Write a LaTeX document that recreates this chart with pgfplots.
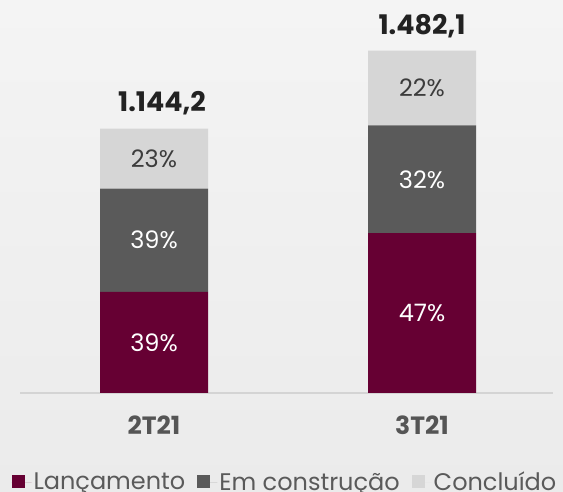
\documentclass[border=0pt]{standalone}
\usepackage{pgfplots}
\pgfplotsset{compat=1.18}
\usepackage{fontspec}
\setmainfont{Poppins}
\definecolor{lanc}{HTML}{660033}
\definecolor{emc}{HTML}{5A5A5A}
\definecolor{conc}{HTML}{D6D6D6}
\definecolor{cattxt}{HTML}{555555}
\definecolor{legtxt}{HTML}{5A5A5A}
\definecolor{tottxt}{HTML}{222222}
\definecolor{pcdark}{HTML}{3C3C3C}
\definecolor{bgtop}{HTML}{F4F4F4}
\definecolor{bgbot}{HTML}{EBEBEB}
\definecolor{baseln}{HTML}{D4D4D4}
\tikzset{tot/.style={font=\fontsize{27bp}{31bp}\selectfont\bfseries, text=tottxt}}
\pgfplotsset{frame/.style={at={(20bp,99bp)}, anchor=south west,
  scale only axis, width=533bp, height=363bp,
  xmin=-0.5, xmax=1.4888, ymin=0, ymax=1571}}
\begin{document}
\begin{tikzpicture}[x=1bp,y=1bp]
\path[use as bounding box] (0,0) rectangle (563,492);
\shade[top color=bgtop, bottom color=bgbot] (0,0) rectangle (563,492);
\begin{axis}[
  frame, clip=false,
  ybar stacked, bar width=0.403,
  axis x line=bottom, axis y line=none,
  x axis line style={draw=baseln, line width=2bp, -},
  xtick={0,1}, xticklabels={2T21,3T21}, major tick length=0,
  xticklabel style={font=\fontsize{25bp}{29bp}\selectfont\bfseries, text=cattxt, yshift=-19bp},
  legend style={at={(0.497,-0.246)}, anchor=center, draw=none, fill=none,
    font=\fontsize{24bp}{28bp}\selectfont, text=legtxt,
    /tikz/every even column/.append style={column sep=10bp}},
  legend columns=3, legend cell align=left,
  legend image code/.code={\path (0bp,0bp) -- (20bp,0bp);\draw[#1,draw=none] (0bp,-6bp) rectangle (13bp,7bp);},
]
\addplot[fill=lanc, draw=none] coordinates {(0,437.9) (1,691.5)};
\addplot[fill=emc, draw=none] coordinates {(0,446.3) (1,466.7)};
\addplot[fill=conc, draw=none] coordinates {(0,260.0) (1,323.9)};
\legend{Lançamento, Em construção, Concluído}
\end{axis}
\begin{axis}[
  frame, clip=false, axis lines=none,
  nodes near coords, point meta=explicit symbolic,
  every node near coord/.style={anchor=center, font=\fontsize{24bp}{28bp}\selectfont},
]
\addplot[only marks, mark=none, every node near coord/.append style={text=white}]
  coordinates {(0,218.9) [39\%] (0,661.0) [39\%] (1,345.8) [47\%] (1,924.8) [32\%]};
\addplot[only marks, mark=none, every node near coord/.append style={text=pcdark}]
  coordinates {(0,1014.2) [23\%] (1,1320.2) [22\%]};
\node[tot, yshift=25bp, xshift=8bp] at (axis cs:0,1144.2) {1.144,2};
\node[tot, yshift=24bp] at (axis cs:1,1482.1) {1.482,1};
\end{axis}
\end{tikzpicture}
\end{document}
